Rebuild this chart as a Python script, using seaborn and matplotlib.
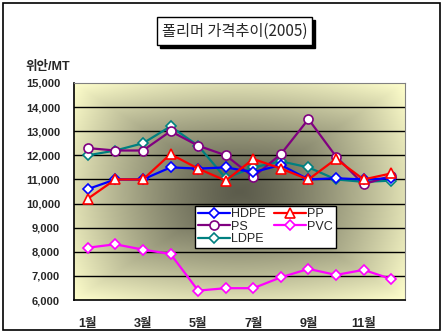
import numpy as np
import pandas as pd
import matplotlib
matplotlib.use("Agg")
import matplotlib.pyplot as plt
import matplotlib.patches as mpatches
import seaborn as sns

months = ["1월", "2월", "3월", "4월", "5월", "6월", "7월", "8월", "9월", "10월", "11월", "12월"]
hdpe = [10600, 11000, 11000, 11500, 11450, 11500, 11300, 11600, 11000, 11050, 11000, 11050]
pp = [10200, 11000, 11000, 12050, 11450, 10950, 11850, 11450, 11000, 11850, 11000, 11250]
ps = [12300, 12200, 12200, 13000, 12400, 12000, 11100, 12050, 13500, 11950, 10800, 11150]
pvc = [8170, 8310, 8090, 7910, 6390, 6490, 6490, 6940, 7290, 7040, 7250, 6870]
ldpe = [12000, 12200, 12500, 13200, 12400, 11050, 11500, 11750, 11500, 11000, 10900, 10950]
yticks = [6000, 7000, 8000, 9000, 10000, 11000, 12000, 13000, 14000, 15000]
title = "폴리머 가격추이(2005)"
ylabel = "위안/MT"

sns.set_style("white")
plt.rcParams['font.family'] = ['Liberation Sans', 'Noto Sans CJK KR', 'DejaVu Sans']

fig = plt.figure(figsize=(4.45, 3.35), dpi=100)
fig.patch.set_facecolor("white")
ax = fig.add_axes([74/445, 35/335, 331/445, 217/335])

# gradient background (from centre)
nx, ny = 300, 200
u = np.linspace(-1, 1, nx)
v = np.linspace(-1, 1, ny)
U, V = np.meshgrid(u, v)
t = np.maximum(np.abs(U), np.abs(V)) * 0.5 + np.sqrt(U**2 + V**2) / np.sqrt(2) * 0.5
t = np.clip(t, 0, 1)
edge = np.array([255, 255, 204]) / 255
center = np.array([92, 92, 76]) / 255
w = t ** 1.35
img = center[None, None, :] * (1 - w[..., None]) + edge[None, None, :] * w[..., None]
ax.imshow(img, extent=[-0.5, 11.5, 6000, 15000], aspect='auto', zorder=0, interpolation='bilinear')

x = np.arange(len(months))
series = [
    ("HDPE", hdpe, "#0000FF", "D", 5.5),
    ("PS", ps, "#800080", "o", 6.5),
    ("LDPE", ldpe, "#008080", "D", 5.5),
    ("PP", pp, "#FF0000", "^", 7),
    ("PVC", pvc, "#FF00FF", "D", 5.5),
]
order_z = {"PVC": 3, "LDPE": 4, "PS": 5, "HDPE": 6, "PP": 7}
handles = []
for name, vals, col, mk, ms in series:
    sns.lineplot(x=x, y=vals, ax=ax, color=col, marker=mk, markersize=ms,
                 markerfacecolor="white", markeredgecolor=col, markeredgewidth=1.2,
                 linewidth=1.6, zorder=order_z[name], label=name, legend=False)
    handles.append(ax.lines[-1])

ax.set_xlim(-0.5, 11.5)
ax.set_ylim(6000, 15000)
ax.set_yticks(yticks)
ax.set_yticklabels([f"{v:,}" for v in yticks], fontsize=8, fontweight='bold')
ax.set_xticks(np.arange(-0.5, 12, 1), minor=False)
ax.set_xticklabels([])
ax.set_xticks(x[::2], minor=True)
ax.set_xticklabels([months[i] for i in x[::2]], minor=True, fontsize=9, fontweight='bold')
ax.tick_params(axis='x', which='major', direction='out', length=4, width=1, color='black')
ax.tick_params(axis='x', which='minor', length=0, pad=13)
ax.tick_params(axis='y', direction='out', length=4, width=1, color='black', pad=6)
ax.set_xlabel("")
ax.set_ylabel("")
for yv in yticks[1:-1]:
    ax.axhline(yv, color='black', lw=1, zorder=1)
ax.spines['left'].set_color('black')
ax.spines['bottom'].set_color('black')
ax.spines['left'].set_linewidth(1.2)
ax.spines['bottom'].set_linewidth(1.2)
ax.spines['top'].set_color('#808080')
ax.spines['right'].set_color('#808080')

leg = ax.legend(handles=handles, labels=[s[0] for s in series], ncol=2,
                loc='upper left', bbox_to_anchor=(0.366, 0.435), frameon=True,
                fancybox=False, edgecolor='black', framealpha=1, fontsize=9,
                handlelength=2.6, handletextpad=0.1, labelspacing=0.05,
                columnspacing=0.6, borderpad=0.2, borderaxespad=0)
leg.get_frame().set_linewidth(1)
leg.set_zorder(10)

# y label
fig.text(25/445, 1 - 67/335, ylabel, fontsize=9, fontweight='bold', va='center', ha='left')

# title box with shadow
bx, by, bw, bh = 157/445, 1 - 45/335, 155/445, 28/335
fig.patches.append(mpatches.Rectangle((bx + 3/445, by - 3/335), bw, bh, transform=fig.transFigure,
                                      facecolor='black', edgecolor='black', zorder=1))
fig.patches.append(mpatches.Rectangle((bx, by), bw, bh, transform=fig.transFigure,
                                      facecolor='white', edgecolor='black', lw=1, zorder=2))
fig.text(bx + bw/2, by + bh/2, title, fontsize=11, ha='center', va='center',
         family=['Noto Sans CJK KR', 'DejaVu Sans'], zorder=3)

# outer border
fig.patches.append(mpatches.Rectangle((3/445, 5/335), 437/445, 327/335, transform=fig.transFigure,
                                      facecolor='none', edgecolor='black', lw=1.2, zorder=0))

fig.savefig("out.png", dpi=100)
